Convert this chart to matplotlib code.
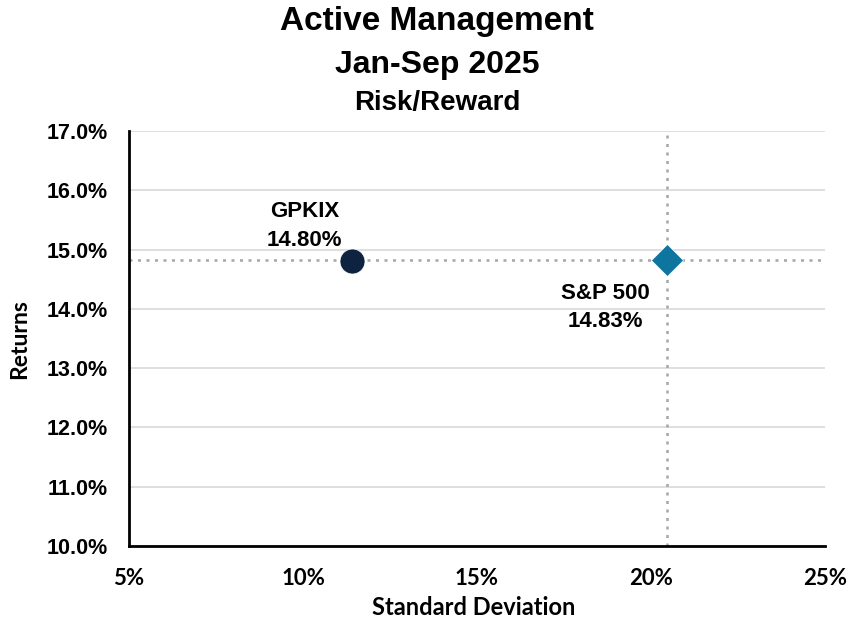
import matplotlib
matplotlib.use("Agg")
import matplotlib.pyplot as plt
from matplotlib.ticker import FuncFormatter

plt.rcParams['font.family'] = ['Liberation Sans', 'DejaVu Sans']

names = ["GPKIX", "S&P 500"]
std_dev = [11.4, 20.45]
returns = [14.80, 14.83]
markers = ["o", "D"]
colors = ["#0d2340", "#0e759f"]
marker_sizes = [18, 16]
label_text = ["GPKIX\n14.80%", "S&P 500\n14.83%"]

x_ticks = [5, 10, 15, 20, 25]
y_ticks = [10, 11, 12, 13, 14, 15, 16, 17]

arial = ['Liberation Sans', 'DejaVu Sans']
cal = ['Lato', 'Liberation Sans', 'DejaVu Sans']

fig = plt.figure(figsize=(8.5, 6.2), dpi=100)
ax = fig.add_axes([129/850, 1-546/620, (825-129)/850, (546-131)/620])

ax.set_xlim(5, 25)
ax.set_ylim(10, 17)
ax.set_xticks(x_ticks)
ax.set_yticks(y_ticks)
ax.xaxis.set_major_formatter(FuncFormatter(lambda v, p: f"{v:.0f}%"))
ax.yaxis.set_major_formatter(FuncFormatter(lambda v, p: f"{v:.1f}%"))
ax.grid(axis='y', color='#d9d9d9', linewidth=1.2)
ax.set_axisbelow(True)
for s in ['top', 'right']:
    ax.spines[s].set_visible(False)
ax.spines['left'].set_linewidth(2)
ax.spines['bottom'].set_linewidth(2)
ax.tick_params(axis='both', length=0)
ax.tick_params(axis='x', pad=16)
ax.tick_params(axis='y', pad=15)
for lab in ax.get_yticklabels():
    lab.set_fontweight('bold')
    lab.set_fontsize(15.5)
    lab.set_family(arial)
for lab in ax.get_xticklabels():
    lab.set_fontweight('bold')
    lab.set_fontsize(16)
    lab.set_family(cal)

# reference lines at S&P 500
ax.axhline(returns[1], color='#a6a6a6', linestyle=(0, (1.2, 2.2)), linewidth=1.8, zorder=1)
ax.axvline(std_dev[1], color='#a6a6a6', linestyle=(0, (1.2, 2.2)), linewidth=1.8, zorder=1)

for xv, yv, m, c, ms in zip(std_dev, returns, markers, colors, marker_sizes):
    ax.plot([xv], [yv], marker=m, color=c, markersize=ms, linestyle='none', zorder=3,
            markeredgecolor='white', markeredgewidth=0.5)

ax.annotate(label_text[0], (std_dev[0], returns[0]), xytext=(-34, 25.5), textcoords='offset points',
            ha='center', va='center', fontsize=16, fontweight='bold', linespacing=1.45, family=arial)
ax.annotate(label_text[1], (std_dev[1], returns[1]), xytext=(-44, -34.5), textcoords='offset points',
            ha='center', va='center', fontsize=16, fontweight='bold', linespacing=1.45, family=arial)

ax.set_xlabel("Standard Deviation", fontsize=17, fontweight='bold', family=cal)
ax.xaxis.set_label_coords((474-129)/696, -(596-546)/415)
ax.set_ylabel("Returns", fontsize=16.5, fontweight='bold', family=cal)
ax.yaxis.set_label_coords(-(129-30)/696, (546-339)/415)

fig.text(437/850, 1-30/620, "Active Management", ha='center', va='baseline', fontsize=24, fontweight='bold')
fig.text(437/850, 1-73/620, "Jan-Sep 2025", ha='center', va='baseline', fontsize=23, fontweight='bold')
fig.text(437/850, 1-110/620, "Risk/Reward", ha='center', va='baseline', fontsize=20, fontweight='bold')

fig.savefig("out.png", dpi=100)
